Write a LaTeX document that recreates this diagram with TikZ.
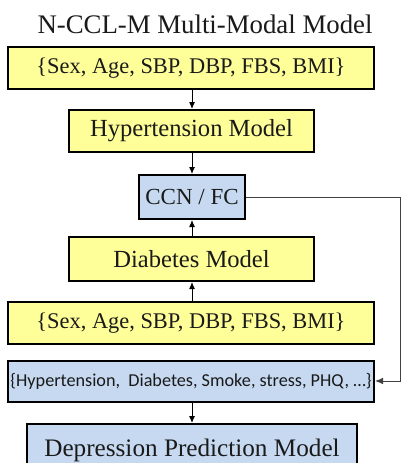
\documentclass[tikz,border=0pt]{standalone}
\usepackage{fontspec}
\setmainfont{Liberation Serif}
\newfontfamily\boxsans{Carlito}
\usetikzlibrary{arrows.meta}
\definecolor{boxyellow}{HTML}{FFFF99}
\definecolor{boxblue}{HTML}{C6D9F1}
\definecolor{txt}{HTML}{1A1A1A}
\newcommand\fs[1]{\fontsize{#1}{#1}\selectfont}
\begin{document}
\begin{tikzpicture}[x=1pt,y=-1pt,
  block/.style={draw=black,line width=2pt,inner sep=0pt,text=txt,font=\fs{22.4}},
  ybox/.style={block,fill=boxyellow},
  bbox/.style={block,fill=boxblue},
  flow/.style={draw=black,line width=1pt,-{Latex[length=7pt,width=6pt]}},
  feed/.style={draw=black!75,line width=0.9pt,-{Latex[length=8pt,width=6.5pt]}}]
\useasboundingbox (0,0) rectangle (401,463);
\clip (0,0) rectangle (401,463);
\fill[white] (0,0) rectangle (401,463);

% title
\node[anchor=base,font=\fs{26.8},text=txt] (title) at (205,33) {N-CCL-M Multi-Modal Model};

% feature inputs and disease models
\node[ybox,minimum width=366pt,minimum height=42pt] (in1) at (191,68) {\{Sex, Age, SBP, DBP, FBS, BMI\}};
\node[ybox,minimum width=245pt,minimum height=42pt,font=\fs{24.6}] (hyp) at (191.5,131) {Hypertension Model};
\node[bbox,minimum width=106pt,minimum height=44pt,font=\fs{23}] (ccn) at (192,197) {CCN / FC};
\node[ybox,minimum width=245pt,minimum height=44pt,font=\fs{24.6}] (dia) at (191.5,259) {Diabetes Model};
\node[ybox,minimum width=366pt,minimum height=42pt] (in2) at (191,323) {\{Sex, Age, SBP, DBP, FBS, BMI\}};

% depression stage
\node[bbox,minimum width=366pt,minimum height=41pt,font=\boxsans\fs{18.2}] (feat) at (191,381.5) {\{Hypertension,\ \ Diabetes, Smoke, stress, PHQ, \dots\}};
\node[bbox,minimum width=330pt,minimum height=52pt,font=\fs{25.2}] (dep) at (192,450) {Depression Prediction Model};

% connectors
\draw[flow] (in1.south -| 192,0) -- (hyp.north -| 192,0);
\draw[flow] (hyp.south -| 192,0) -- (ccn.north -| 192,0);
\draw[flow] (dia.north -| 192,0) -- (ccn.south -| 192,0);
\draw[flow] (in2.north -| 192,0) -- (dia.south -| 192,0);
\draw[flow] (feat.south -| 192,0) -- (dep.north -| 192,0);
\coordinate (c1) at (400,197);
\coordinate (c2) at (400,381);
\draw[feed] (ccn.east) -- (c1) -- (c2) -- (feat.east |- c2);
\end{tikzpicture}
\end{document}
